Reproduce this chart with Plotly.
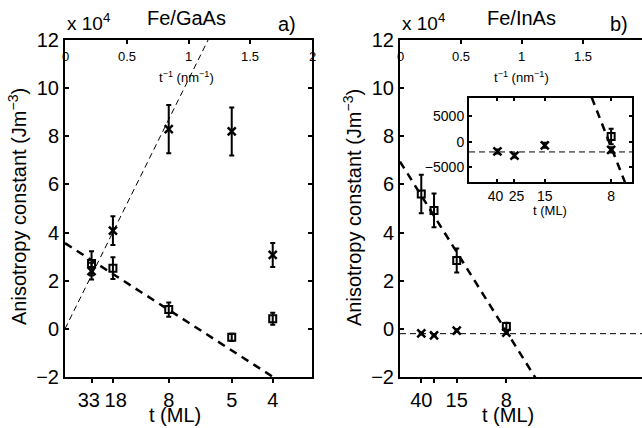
import plotly.graph_objects as go

# ---------------- data ----------------
# Panel a) Fe/GaAs  (values in 10^4 J m^-3, position in t^-1 (nm^-1))
gaas_t_labels = ["33", "18", "8", "5", "4"]
gaas_inv_t = [0.215, 0.388, 0.84, 1.35, 1.682]
gaas_cross = [2.4, 4.08, 8.3, 8.2, 3.07]
gaas_cross_err = [0.35, 0.6, 1.0, 1.0, 0.5]
gaas_square = [2.72, 2.52, 0.8, -0.35, 0.42]
gaas_square_err = [0.5, 0.45, 0.3, 0.15, 0.25]
gaas_fit_thin = (0.0, 10.36)      # intercept, slope
gaas_fit_thick = (3.56, -3.30)

# Panel b) Fe/InAs  (values in J m^-3)
inas_t_labels = ["40", "25", "15", "8"]
inas_main_labels = ["40", "", "15", "8"]
inas_inv_t = [0.1745, 0.279, 0.465, 0.872]
inas_cross = [-1900, -2700, -700, -1600]
inas_cross_err = [400, 400, 500, 500]
inas_square = [56000, 49200, 28400, 1000]
inas_square_err = [8000, 7000, 5000, 1500]
inas_fit_thick = (69500, -80900)
inas_fit_level = -2000

top_ticks = [0, 0.5, 1, 1.5, 2]
top_tick_text = ["0", "0.5", "1", "1.5", "2"]
scale = 1e4

FONT = "Liberation Sans, Arial, Helvetica, sans-serif"
W, H = 642, 428
NB = "\u00a0"

# crowded neighbouring labels get a little padding so they do not touch
gaas_tick_text = [gaas_t_labels[0] + NB] + [NB + gaas_t_labels[1]] + gaas_t_labels[2:]
inset_tick_text = [inas_t_labels[0] + NB, NB + inas_t_labels[1]] + inas_t_labels[2:]


def px(x):
    return x / W


def py(y):
    return 1 - y / H


fig = go.Figure()

thin_dash = dict(color="black", width=1, dash="6px,4px")
thick_dash = dict(color="black", width=2.5, dash="8px,6px")
cross_marker = dict(symbol="x-thin-open", size=8, color="black",
                    line=dict(color="black", width=2.5))
square_marker = dict(symbol="square-open", size=7, color="black",
                     line=dict(color="black", width=2))


def line_pts(fit, x0, x1, k=1.0):
    a, b = fit
    return [x0, x1], [(a + b * x0) / k, (a + b * x1) / k]


# ---- panel a ----
xs, ys = line_pts(gaas_fit_thin, 0, 2)
fig.add_trace(go.Scatter(x=xs, y=ys, mode="lines", line=thin_dash, xaxis="x", yaxis="y"))
xs, ys = line_pts(gaas_fit_thick, 0, 2)
fig.add_trace(go.Scatter(x=xs, y=ys, mode="lines", line=thick_dash, xaxis="x", yaxis="y"))
fig.add_trace(go.Scatter(x=gaas_inv_t, y=gaas_square, mode="markers", marker=square_marker,
                         error_y=dict(array=gaas_square_err, color="black", thickness=2, width=2.5),
                         xaxis="x", yaxis="y"))
fig.add_trace(go.Scatter(x=gaas_inv_t, y=gaas_cross, mode="markers", marker=cross_marker,
                         error_y=dict(array=gaas_cross_err, color="black", thickness=2, width=2.5),
                         xaxis="x", yaxis="y"))
fig.add_trace(go.Scatter(x=top_ticks, y=[None] * 5, mode="markers", xaxis="x2", yaxis="y",
                         marker=dict(opacity=0)))

# ---- panel b ----
xs, ys = line_pts(inas_fit_thick, 0, 2, scale)
fig.add_trace(go.Scatter(x=xs, y=ys, mode="lines", line=thick_dash, xaxis="x3", yaxis="y3"))
fig.add_trace(go.Scatter(x=[0, 2], y=[inas_fit_level / scale] * 2, mode="lines", line=thin_dash,
                         xaxis="x3", yaxis="y3"))
fig.add_trace(go.Scatter(x=inas_inv_t, y=[v / scale for v in inas_square], mode="markers",
                         marker=square_marker,
                         error_y=dict(array=[e / scale for e in inas_square_err], color="black",
                                      thickness=2, width=2.5),
                         xaxis="x3", yaxis="y3"))
fig.add_trace(go.Scatter(x=inas_inv_t, y=[v / scale for v in inas_cross], mode="markers",
                         marker=cross_marker,
                         error_y=dict(array=[e / scale for e in inas_cross_err], color="black",
                                      thickness=2, width=2.5),
                         xaxis="x3", yaxis="y3"))
fig.add_trace(go.Scatter(x=top_ticks, y=[None] * 5, mode="markers", xaxis="x4", yaxis="y3",
                         marker=dict(opacity=0)))

# ---- inset ----
xs, ys = line_pts(inas_fit_thick, 0, 1.2)
fig.add_trace(go.Scatter(x=xs, y=ys, mode="lines", line=thick_dash, xaxis="x5", yaxis="y5"))
fig.add_trace(go.Scatter(x=[0, 1], y=[inas_fit_level] * 2, mode="lines", line=thin_dash,
                         xaxis="x5", yaxis="y5"))
fig.add_trace(go.Scatter(x=inas_inv_t, y=inas_square, mode="markers", marker=square_marker,
                         error_y=dict(array=inas_square_err, color="black", thickness=2, width=2.5),
                         xaxis="x5", yaxis="y5"))
fig.add_trace(go.Scatter(x=inas_inv_t, y=inas_cross, mode="markers", marker=cross_marker,
                         error_y=dict(array=inas_cross_err, color="black", thickness=2, width=2.5),
                         xaxis="x5", yaxis="y5"))

axis_common = dict(showgrid=False, zeroline=False, showline=True, linecolor="black",
                   linewidth=2, tickcolor="black", tickwidth=1.5, automargin=False,
                   tickangle=0,
                   tickfont=dict(family=FONT, size=20, color="black"))

dom_a = [px(65), px(312)]
dom_b = [px(400), 1.0]
dom_y = [py(377), py(40)]

fig.update_layout(
    width=W, height=H, margin=dict(l=0, r=0, t=0, b=0, pad=0, autoexpand=False),
    paper_bgcolor="white", plot_bgcolor="white", showlegend=False,
    font=dict(family=FONT, color="black"),
    xaxis=dict(axis_common, domain=dom_a, range=[0, 2], anchor="y",
               tickvals=gaas_inv_t, ticktext=gaas_tick_text, ticks="outside", ticklen=4),
    xaxis2=dict(axis_common, overlaying="x", side="top", anchor="y", range=[0, 2],
                tickvals=top_ticks, ticks="inside", ticklen=4, showticklabels=False),
    yaxis=dict(axis_common, domain=dom_y, range=[-2, 12], anchor="x", dtick=2,
               ticks="inside", ticklen=4, mirror="ticks"),
    xaxis3=dict(axis_common, domain=dom_b, range=[0, 1.984], anchor="y3",
                tickvals=inas_inv_t, ticktext=inas_main_labels, ticks="outside", ticklen=4),
    xaxis4=dict(axis_common, overlaying="x3", side="top", anchor="y3", range=[0, 1.984],
                tickvals=top_ticks, ticks="inside", ticklen=4, showticklabels=False),
    yaxis3=dict(axis_common, domain=dom_y, range=[-2, 12], anchor="x3", dtick=2,
                ticks="inside", ticklen=4),
    xaxis5=dict(axis_common, domain=[px(469), px(632)], range=[0, 1], anchor="y5",
                tickvals=inas_inv_t, ticktext=inset_tick_text, ticks="inside", ticklen=3,
                mirror="ticks", tickfont=dict(family=FONT, size=14, color="black")),
    yaxis5=dict(axis_common, domain=[py(182), py(98)], range=[-7850, 8500], anchor="x5",
                tickvals=[-5000, 0, 5000], ticks="inside", ticklen=3, mirror="ticks",
                tickfont=dict(family=FONT, size=14, color="black")),
)

ann = []
# top-axis tick labels (drawn inside the box, like the original)
for xr in ["x2", "x4"]:
    for v, t in zip(top_ticks, top_tick_text):
        ann.append(dict(x=v, y=py(56), xref=xr, yref="paper", text=t, showarrow=False,
                        font=dict(size=13), xanchor="center", yanchor="middle"))


def txt(x, y, t, size, **kw):
    d = dict(x=px(x), y=py(y), xref="paper", yref="paper", text=t, showarrow=False,
             font=dict(size=size), xanchor="center", yanchor="middle")
    d.update(kw)
    ann.append(d)


txt(187, 77, "t<sup>−1</sup> (nm<sup>−1</sup>)", 13)
txt(521, 77, "t<sup>−1</sup> (nm<sup>−1</sup>)", 13)
txt(187, 18, "Fe/GaAs", 20)
txt(521, 18, "Fe/InAs", 20)
txt(287, 24, "a)", 20)
txt(619, 24, "b)", 20)
txt(65, 22, "x 10<sup>4</sup>", 19, xanchor="left")
txt(400, 22, "x 10<sup>4</sup>", 19, xanchor="left")
txt(175, 415, "t (ML)", 20)
txt(508, 415, "t (ML)", 20)
txt(550, 210, "t (ML)", 13)
txt(17, 207, "Anisotropy constant (Jm<sup>−3</sup>)", 20, textangle=-90)
txt(352, 207, "Anisotropy constant (Jm<sup>−3</sup>)", 20, textangle=-90)

fig.update_layout(annotations=ann)
fig.write_html("out.html")
